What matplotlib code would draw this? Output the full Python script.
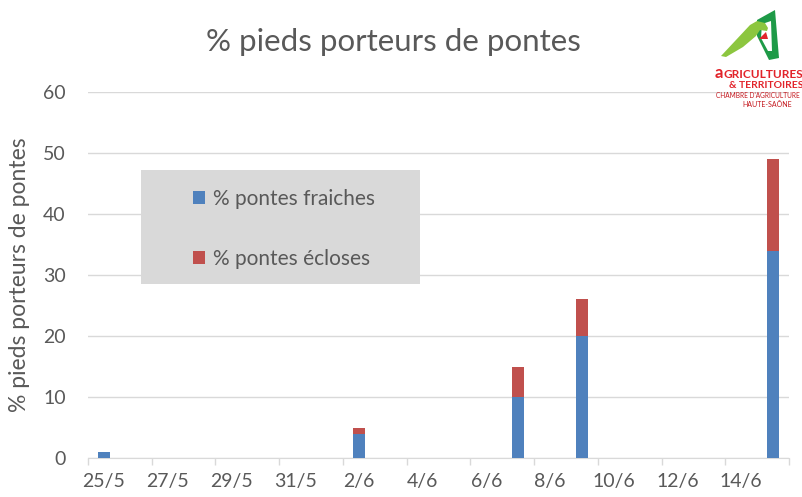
import pandas as pd
import matplotlib.pyplot as plt
import matplotlib.dates as mdates
from matplotlib.ticker import FixedLocator, NullFormatter
from matplotlib.patches import Rectangle, Polygon

# Data
dates_obs = ['25/5', '2/6', '7/6', '9/6', '15/6']
pontes_fraiches = [1, 4, 10, 20, 34]
pontes_ecloses = [0, 1, 5, 6, 15]
tick_labels = ['25/5', '27/5', '29/5', '31/5', '2/6', '4/6',
               '6/6', '8/6', '10/6', '12/6', '14/6']
y_ticks = [0, 10, 20, 30, 40, 50, 60]

W, H = 803, 497
GREY_TEXT = '#595959'
BLUE = '#4f81bd'
RED = '#c0504d'
plt.rcParams['font.family'] = ['Lato', 'DejaVu Sans']


def to_date(d):
    return pd.to_datetime(d + '/2020', format='%d/%m/%Y')


def px(x, y):
    # pixel position -> figure fraction
    return (x / W, 1 - y / H)


def logo_shape(points, color):
    fig.patches.append(Polygon([px(a, b) for a, b in points], closed=True, facecolor=color,
                               edgecolor='none', transform=fig.transFigure))


x = [to_date(d) for d in dates_obs]
first, last = to_date(tick_labels[0]), to_date(dates_obs[-1])
half = pd.Timedelta(hours=12)

fig = plt.figure(figsize=(W / 100, H / 100), dpi=100)
ax = fig.add_axes([88 / W, 39 / H, 701 / W, 366 / H])

ax.bar(x, pontes_fraiches, width=0.38, color=BLUE, label='% pontes fraiches', zorder=3)
ax.bar(x, pontes_ecloses, width=0.38, bottom=pontes_fraiches, color=RED,
       label='% pontes écloses', zorder=3)

ax.set_xlim(first - half, last + half)
ax.set_ylim(0, 60)

# tick marks between days, labels on the days
bounds = pd.date_range(first - half, last + half, freq='2D')
ax.xaxis.set_major_locator(FixedLocator(mdates.date2num(bounds)))
ax.xaxis.set_major_formatter(NullFormatter())
ax.set_xticks([to_date(t) for t in tick_labels], tick_labels, minor=True)
ax.tick_params(axis='x', which='major', length=5, color='#d9d9d9', width=1)
ax.tick_params(axis='x', which='minor', length=0, pad=11, labelsize=14, labelcolor=GREY_TEXT)

ax.set_yticks(y_ticks)
ax.tick_params(axis='y', length=0, pad=16, labelsize=14, labelcolor=GREY_TEXT)
ax.grid(axis='y', color='#d9d9d9', linewidth=1, zorder=0)
ax.set_axisbelow(True)

for side in ['top', 'right', 'left']:
    ax.spines[side].set_visible(False)
ax.spines['bottom'].set_color('#d9d9d9')

# legend box
ax.add_patch(Rectangle((53 / 701, 174 / 366), 279 / 701, 114 / 366, transform=ax.transAxes,
                       facecolor='#d9d9d9', edgecolor='none', zorder=2))
ax.legend(loc='center left', bbox_to_anchor=(95 / 701, 229 / 366), frameon=False,
          fontsize=15, labelcolor=GREY_TEXT, borderpad=0, labelspacing=1.9,
          handlelength=0.58, handleheight=0.58, handletextpad=0.35)

fig.text(*px(393, 42), '% pieds porteurs de pontes', ha='center', va='center',
         fontsize=22.5, color=GREY_TEXT)
fig.text(*px(20, 275), '% pieds porteurs de pontes', ha='center', va='center',
         rotation=90, fontsize=16.5, color=GREY_TEXT)

# logo (top right)
logo_shape([(757, 20), (775, 10), (779, 58), (769, 60), (757, 36)], '#1e9a47')
logo_shape([(762, 24), (771, 21), (772, 51), (768, 51), (761, 38)], 'white')
logo_shape([(721, 56), (750, 25), (757, 21), (765, 23), (768, 28), (767, 31),
            (760, 30), (756, 36), (743, 47), (726, 57)], '#8cc63f')
logo_shape([(759, 39), (766, 32), (768, 39)], '#e2232a')
fig.text(*px(715, 73), 'a', fontsize=12, fontweight='bold', color='#e2232a',
         va='center', fontstretch='condensed')
fig.text(*px(724, 74), 'GRICULTURES', fontsize=8.5, fontweight='bold', color='#e2232a',
         va='center', fontstretch='condensed')
fig.text(*px(729, 85), '& TERRITOIRES', fontsize=7.5, fontweight='bold', color='#e2232a',
         va='center', fontstretch='condensed')
fig.text(*px(716, 96), "CHAMBRE D'AGRICULTURE", fontsize=4.7, color='#c4161c',
         va='center', fontstretch='condensed')
fig.text(*px(742, 105), 'HAUTE-SAÔNE', fontsize=5, color='#c4161c',
         va='center', fontstretch='condensed')

fig.savefig('out.png', dpi=100)
